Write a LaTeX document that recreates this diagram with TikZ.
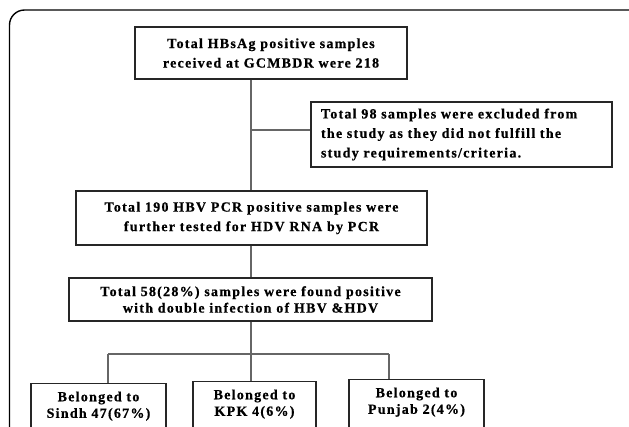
\documentclass[tikz,border=0pt]{standalone}
\usepackage{fontspec}
\setmainfont{Liberation Serif}[LetterSpace=9, BoldFeatures={FakeBold=0.6}]
\begin{document}
\begin{tikzpicture}[x=1pt,y=-1pt,
  box/.style={draw=black!85, line width=1.1pt, fill=white, inner sep=0pt, align=center,
    font=\fontsize{14}{19.5}\selectfont\bfseries},
  conn/.style={draw=black!60, line width=1.1pt},
  frame/.style={draw=black, line width=1.4pt, rounded corners=15pt}]
\useasboundingbox (0,0) rectangle (629,426);
\clip (0,0) rectangle (629,426);
\fill[white] (0,0) rectangle (629,426);
\draw[frame] (9.5,10) rectangle (660,470);

\node[box, minimum width=272pt, minimum height=52pt] (b1) at (271,53)
  {Total HBsAg positive samples\\received at GCMBDR were 218};
\node[box, align=left, minimum width=301pt, minimum height=65pt, text width=281pt, inner xsep=10pt] (b2) at (461.5,134.5)
  {Total 98 samples were excluded from\\the study as they did not fulfill the\\study requirements/criteria.};
\node[box, minimum width=351pt, minimum height=54pt] (b3) at (251.5,218)
  {Total 190 HBV PCR positive samples were\\further tested for HDV RNA by PCR};
\node[box, minimum width=363pt, minimum height=43pt] (b4) at (250.5,299.5)
  {Total 58(28\%) samples were found positive\\[-3pt]with double infection of HBV \&HDV};
\node[box, anchor=north, minimum width=135pt, inner ysep=8pt, text depth=40pt] (b5) at (98.5,383)
  {Belonged to\\[-3pt]Sindh 47(67\%)};
\node[box, anchor=north, minimum width=123pt, inner ysep=8pt, text depth=40pt] (b6) at (254.5,381)
  {Belonged to\\[-3pt]KPK 4(6\%)};
\node[box, anchor=north, minimum width=135pt, inner ysep=8pt, text depth=40pt] (b7) at (416.5,379)
  {Belonged to\\[-3pt]Punjab 2(4\%)};

\coordinate (j1) at (251,130);
\coordinate (jl) at (108,354);
\coordinate (jm) at (251,354);
\coordinate (jr) at (389,354);

\draw[conn] (b1.south -| j1) -- (j1 |- b3.north);
\draw[conn] (j1) -- (b2.west |- j1);
\draw[conn] (b3.south -| j1) -- (j1 |- b4.north);
\draw[conn] (b4.south -| jm) -- (jm);
\draw[conn] (jl) -- (jr);
\draw[conn] (jl) -- (jl |- b5.north);
\draw[conn] (jm) -- (jm |- b6.north);
\draw[conn] (jr) -- (jr |- b7.north);
\end{tikzpicture}
\end{document}
